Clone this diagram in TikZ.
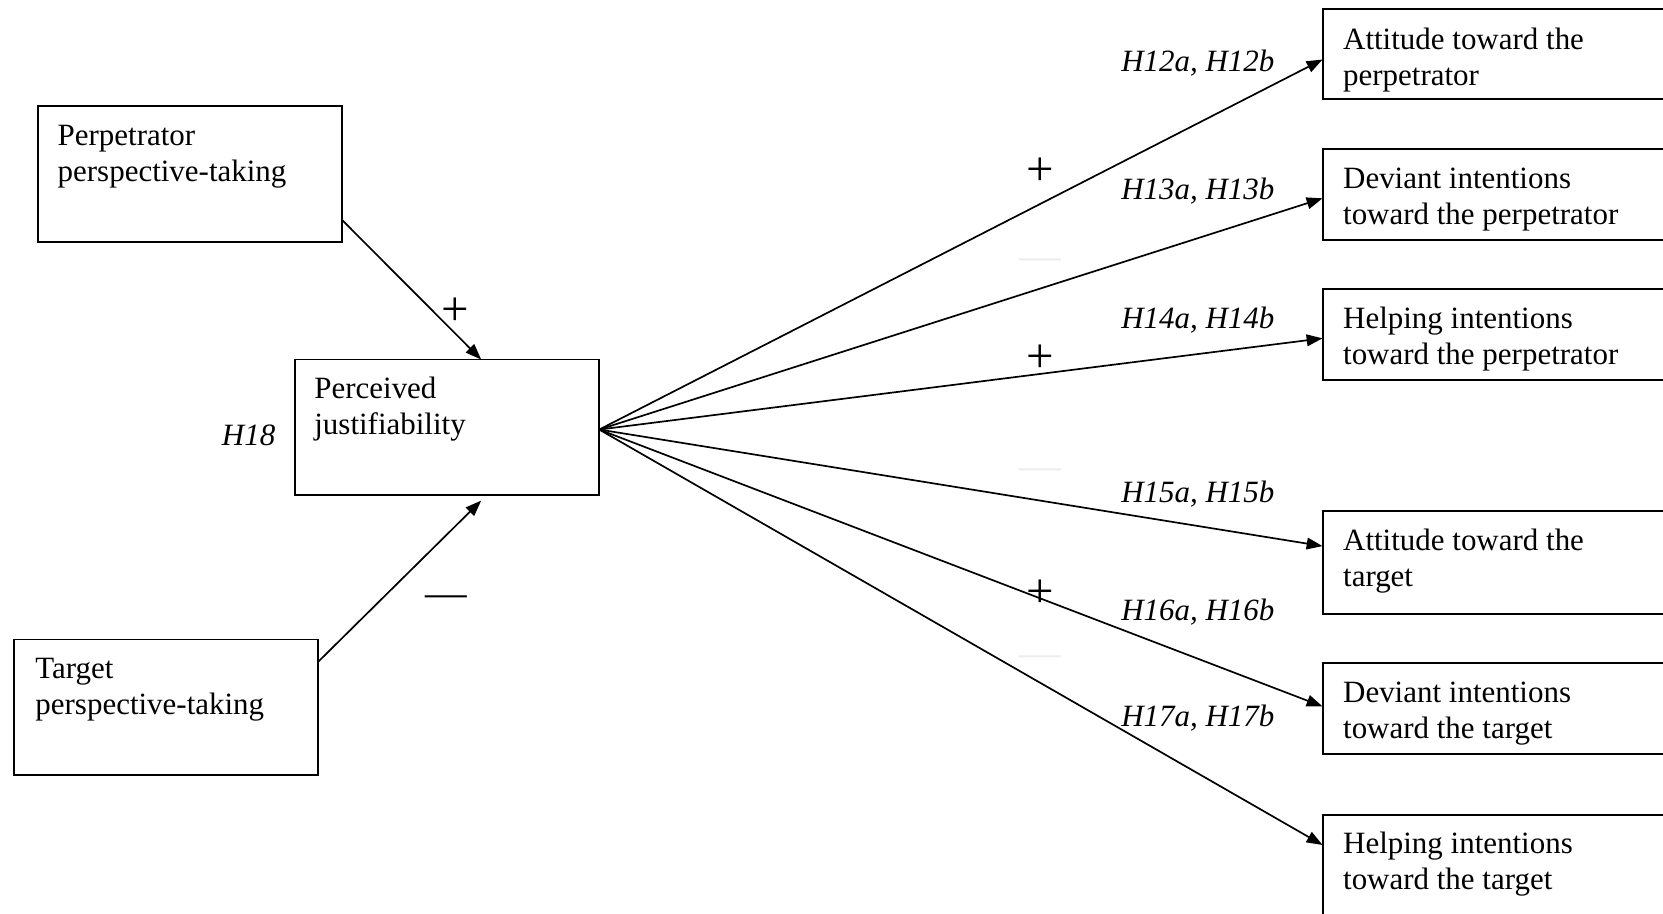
\documentclass[tikz,border=0pt]{standalone}
\usepackage{fontspec}
\setmainfont{Liberation Serif}
\usetikzlibrary{arrows.meta}
\newcommand\boxtext[2]{\parbox[t]{300pt}{#1\\#2}}
\begin{document}
\begin{tikzpicture}[x=0.5pt,y=-0.5pt,
  box/.style={draw, line width=0.9pt, rectangle, inner sep=0pt, outer sep=0pt},
  lbox/.style={box, minimum width=143.5pt, minimum height=64pt},
  rbox/.style={box, minimum width=196.5pt},
  txt/.style={anchor=base west, inner sep=0pt, font=\fontsize{14.6pt}{17pt}\selectfont},
  hyp/.style={anchor=base east, inner sep=0pt, font=\fontsize{14.6pt}{17pt}\selectfont\itshape},
  sign/.style={inner sep=0pt, font=\fontsize{23pt}{25pt}\selectfont},
  dashsign/.style={inner sep=0pt, font=\fontsize{19.6pt}{22pt}\selectfont},
  conn/.style={line width=0.8pt, -{Triangle[length=7.5pt,width=5.5pt]}},
]
\useasboundingbox (0,0) rectangle (1568,861);
\clip (0,0) rectangle (1568,861);
\fill[white] (0,0) rectangle (1568,861);

% left boxes
\node[lbox] (pp) at (179,164) {};
\node[lbox] (pj) at (421.5,403) {};
\node[lbox] (tp) at (156.5,667) {};
\node[txt] (ppt) at (54,137) {\boxtext{Perpetrator}{perspective-taking}};
\node[txt] (pjt) at (296,376) {\boxtext{Perceived}{justifiability}};
\node[txt] (tpt) at (33,640) {\boxtext{Target}{perspective-taking}};
\node[hyp] (h18) at (260,420) {H18};

% right boxes
\node[rbox, minimum height=42.6pt] (a1) at (1443.5,51.1) {};
\node[rbox, minimum height=42.75pt] (a2) at (1443.5,183.5) {};
\node[rbox, minimum height=42.75pt] (a3) at (1443.5,315.5) {};
\node[rbox, minimum height=48.5pt] (b1) at (1443.5,530.3) {};
\node[rbox, minimum height=42.75pt] (b2) at (1443.5,668.1) {};
\node[rbox, minimum height=55.8pt] (b3) at (1443.5,824.2) {};
\node[txt] (a1t) at (1266,46.5) {\boxtext{Attitude toward the}{perpetrator}};
\node[txt] (a2t) at (1266,178) {\boxtext{Deviant intentions}{toward the perpetrator}};
\node[txt] (a3t) at (1266,310) {\boxtext{Helping intentions}{toward the perpetrator}};
\node[txt] (b1t) at (1266,519) {\boxtext{Attitude toward the}{target}};
\node[txt] (b2t) at (1266,662) {\boxtext{Deviant intentions}{toward the target}};
\node[txt] (b3t) at (1266,805) {\boxtext{Helping intentions}{toward the target}};

% hypothesis labels
\node[hyp] (h12) at (1202,67.6) {H12a, H12b};
\node[hyp] (h13) at (1202,188) {H13a, H13b};
\node[hyp] (h14) at (1202,310) {H14a, H14b};
\node[hyp] (h15) at (1202,474) {H15a, H15b};
\node[hyp] (h16) at (1202,585) {H16a, H16b};
\node[hyp] (h17) at (1202,685) {H17a, H17b};

% connectors
\draw[conn] ([yshift=-21.7pt]pp.east) -- ([xshift=16.1pt]pj.north);
\draw[conn] ([yshift=21.5pt]tp.east) -- ([xshift=16.1pt,yshift=-2.5pt]pj.south);
\draw[conn] ([yshift=-1pt]pj.east) -- ([yshift=-2.5pt]a1.west);
\draw[conn] ([yshift=-1pt]pj.east) -- ([yshift=-1.75pt]a2.west);
\draw[conn] ([yshift=-1pt]pj.east) -- ([yshift=-1.75pt]a3.west);
\draw[conn] ([yshift=-1pt]pj.east) -- ([yshift=7.7pt]b1.west);
\draw[conn] ([yshift=-1pt]pj.east) -- ([yshift=1pt]b2.west);
\draw[conn] ([yshift=-1pt]pj.east) -- ([yshift=13.75pt]b3.west);

% signs
\node[sign] (s1) at (429.6,293.5) {+};
\node[dashsign] (s2) at (421,567) {—};
\node[sign] (s3) at (980.6,162) {+};
\node[sign] (s4) at (980.6,338) {+};
\node[sign] (s5) at (980.6,559.5) {+};
\node[dashsign, text=black!7] (f1) at (981,249) {—};
\node[dashsign, text=black!7] (f2) at (981,447) {—};
\node[dashsign, text=black!7] (f3) at (981,623) {—};
\end{tikzpicture}
\end{document}
